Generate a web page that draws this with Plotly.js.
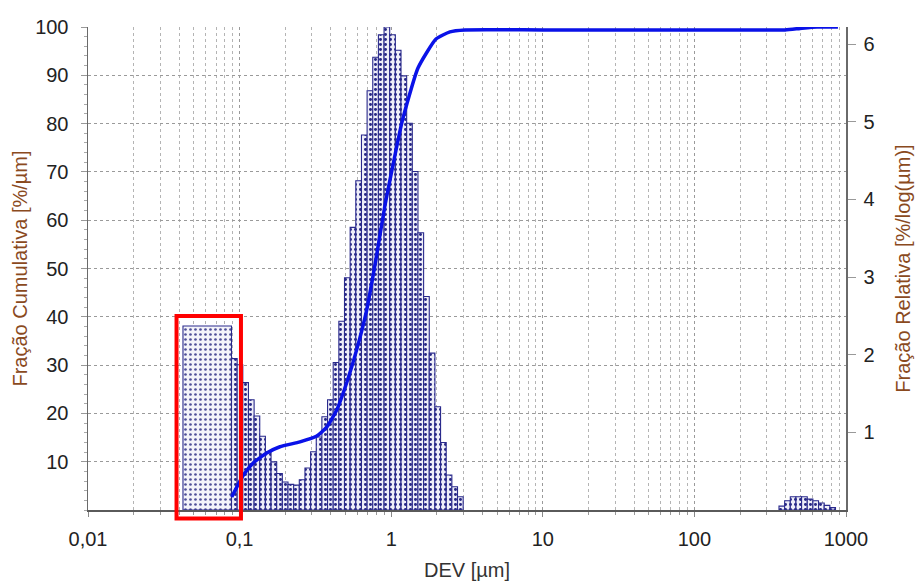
<!DOCTYPE html>
<html>
<head>
<meta charset="utf-8">
<script src="https://cdn.plot.ly/plotly-3.0.1.min.js"></script>
<style>html,body{margin:0;padding:0;background:#fff;}#chart{width:915px;height:583px;}</style>
</head>
<body>
<div id="chart"></div>
<script>
// X tick labels (log axis, decimal comma)
const xTickVals = [0.01, 0.1, 1, 10, 100, 1000];
const xTickText = ['0,01', '0,1', '1', '10', '100', '1000'];
const yLeftTicks = [10, 20, 30, 40, 50, 60, 70, 80, 90, 100];
const yRightTicks = [1, 2, 3, 4, 5, 6];

// Coarse (highlighted) class: edges in µm, relative fraction %/log(µm)
const coarseEdges = [0.04232, 0.08842];
const coarseValues = [2.37];

// Main distribution classes: bin edges in µm and relative fraction %/log(µm)
const mainEdges = [0.08842, 0.09634, 0.10497, 0.11438, 0.12463, 0.13580, 0.14797, 0.16123, 0.17568, 0.19142,
  0.20857, 0.22726, 0.24763, 0.26982, 0.29400, 0.32034, 0.34905, 0.38033, 0.41441, 0.45155,
  0.49201, 0.53610, 0.58414, 0.63648, 0.69352, 0.75567, 0.82338, 0.89717, 0.97756, 1.06516,
  1.16061, 1.26462, 1.37794, 1.50142, 1.63596, 1.78256, 1.94229, 2.11634, 2.30599, 2.51263,
  2.73779, 2.98313];
const mainValues = [1.95, 1.87, 1.64, 1.42, 1.21, 0.95, 0.75, 0.62, 0.47, 0.36,
  0.33, 0.32, 0.39, 0.54, 0.75, 0.94, 1.20, 1.42, 1.90, 2.43,
  2.99, 3.64, 4.24, 4.83, 5.40, 5.83, 6.12, 6.22, 6.12, 5.92,
  5.59, 4.98, 4.36, 3.57, 2.75, 2.02, 1.33, 0.87, 0.45, 0.30,
  0.17];

// Small coarse bump around 400-900 µm
const bumpEdges = [361.4, 393.8, 429.1, 467.5, 509.4, 555.1, 604.8, 659.0, 718.1, 782.4, 852.5];
const bumpValues = [0.05, 0.12, 0.17, 0.17, 0.17, 0.14, 0.12, 0.09, 0.06, 0.03];

// Cumulative fraction curve
const cumX = [0.0887, 0.1057, 0.1225, 0.151, 0.1846, 0.250, 0.323, 0.376, 0.437, 0.508,
  0.591, 0.689, 0.794, 0.910, 1.012, 1.178, 1.502, 1.975, 2.44, 3.07,
  10, 100, 396, 498, 644, 885];
const cumY = [2.7, 7.2, 9.7, 11.8, 13.1, 14.1, 15.3, 17.2, 20.7, 26.3,
  33.1, 41.4, 52.0, 63.1, 70.4, 80.3, 91.5, 97.5, 99.0, 99.4,
  99.4, 99.4, 99.4, 99.7, 100, 100];

function barTrace(edges, values, pat) {
  const x = edges.slice(0, values.length);
  const w = values.map((v, i) => edges[i + 1] - edges[i]);
  return {
    type: 'bar', x: x, y: values, width: w, offset: 0,
    yaxis: 'y', xaxis: 'x',
    marker: {
      color: pat.bg,
      line: {color: '#2a2a8c', width: 1.1},
      pattern: {shape: '.', fillmode: 'replace', bgcolor: pat.bg, fgcolor: pat.fg, size: pat.size, solidity: pat.sol}
    },
    hoverinfo: 'x+y'
  };
}

const mainPat = {bg: '#eeeef8', fg: '#262684', size: 5, sol: 0.28};
const data = [
  barTrace(coarseEdges, coarseValues, {bg: '#f4f4fa', fg: '#4f4f98', size: 5, sol: 0.22}),
  barTrace(mainEdges, mainValues, mainPat),
  barTrace(bumpEdges, bumpValues, mainPat),
  {
    type: 'scatter', mode: 'lines', x: cumX, y: cumY, yaxis: 'y2', xaxis: 'x',
    line: {color: '#0a12e8', width: 3.5, shape: 'spline', smoothing: 0.5}
  }
];

const font = 'Arial, "Liberation Sans", sans-serif';
const titleColor = '#8a4a1e';
const layout = {
  width: 915, height: 583,
  margin: {l: 88, r: 69, t: 27, b: 73, pad: 0},
  paper_bgcolor: '#ffffff', plot_bgcolor: '#ffffff',
  showlegend: false, barmode: 'overlay',
  font: {family: font, size: 20, color: '#222'},
  xaxis: {
    type: 'log', range: [-2, 3],
    tickmode: 'array', tickvals: xTickVals, ticktext: xTickText,
    ticks: 'outside', ticklen: 5, tickcolor: '#888', tickwidth: 1,
    ticklabelstandoff: 5,
    tickfont: {size: 20, color: '#222', family: font},
    showline: true, linecolor: '#5a5a5a', linewidth: 1.5,
    showgrid: true, gridcolor: '#9a9a9a', griddash: 'dot', gridwidth: 1,
    zeroline: false,
    minor: {dtick: 'D1', showgrid: true, gridcolor: '#b4b4b4', griddash: 'dot', gridwidth: 1,
            ticks: 'outside', ticklen: 3, tickcolor: '#999'},
    title: {text: 'DEV [µm]', font: {size: 20, color: '#333', family: font}, standoff: 14}
  },
  yaxis: {
    side: 'right', range: [0, 6.22],
    tickmode: 'array', tickvals: yRightTicks,
    ticks: 'outside', ticklen: 8, tickcolor: '#999', ticklabelstandoff: 4,
    tickfont: {size: 20, color: '#222', family: font},
    showline: true, linecolor: '#6a6a6a', linewidth: 1.5,
    showgrid: false, zeroline: false,
    title: {text: 'Fração Relativa [%/log(µm)]', font: {size: 20, color: titleColor, family: font}, standoff: 22}
  },
  yaxis2: {
    overlaying: 'y', side: 'left', range: [0, 100],
    tickmode: 'array', tickvals: yLeftTicks,
    ticks: 'outside', ticklen: 6, tickcolor: '#999', ticklabelstandoff: 8,
    tickfont: {size: 20, color: '#222', family: font},
    showline: true, linecolor: '#6a6a6a', linewidth: 1.5,
    showgrid: true, gridcolor: '#9a9a9a', griddash: 'dot', gridwidth: 1,
    zeroline: false,
    minor: {dtick: 2, ticks: 'outside', ticklen: 3, tickcolor: '#aaa', showgrid: false},
    title: {text: 'Fração Cumulativa [%/µm]', font: {size: 20, color: titleColor, family: font}, standoff: 2}
  },
  shapes: [{
    type: 'rect', xref: 'paper', yref: 'paper',
    x0: 0.1168, x1: 0.2018, y0: -0.0176, y1: 0.4017,
    line: {color: '#ff0000', width: 4}, fillcolor: 'rgba(0,0,0,0)', layer: 'above'
  }]
};

Plotly.newPlot('chart', data, layout, {displayModeBar: false, staticPlot: true});
</script>
</body>
</html>
